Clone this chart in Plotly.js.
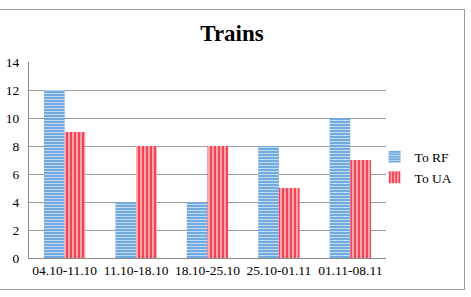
<!DOCTYPE html>
<html><head><meta charset="utf-8">
<script src="https://cdn.plot.ly/plotly-3.0.1.min.js"></script>
<style>
html,body{margin:0;padding:0;background:#fff;}
#wrap{position:relative;width:471px;height:297px;overflow:hidden;}
#chart{position:absolute;left:0;top:0;width:471px;height:297px;}
#frame{position:absolute;left:-2px;top:9px;width:465px;height:279px;border:1px solid #9a9a9a;pointer-events:none;}
</style></head>
<body><div id="wrap"><div id="chart"></div><div id="frame"></div></div>
<script>
const categories = ["04.10-11.10","11.10-18.10","18.10-25.10","25.10-01.11","01.11-08.11"];
const toRF = [12, 4, 4, 8, 10];
const toUA = [9, 8, 8, 5, 7];
const yTicks = [0,2,4,6,8,10,12,14];

const traces = [
  {type:'bar', name:'To RF', x:categories, y:toRF,
   marker:{color:'#7fb2e0', line:{width:0},
     pattern:{shape:'-', fgcolor:'#c2dcf4', bgcolor:'#72aadf', size:3, solidity:0.35}}},
  {type:'bar', name:'To UA', x:categories, y:toUA,
   marker:{color:'#ff7a80', line:{width:0},
     pattern:{shape:'|', fgcolor:'#f01a30', bgcolor:'#ffa4aa', size:4, solidity:0.35}}}
];
const layout = {
  width:471, height:297,
  margin:{l:29, r:85, t:62, b:39, autoexpand:false},
  paper_bgcolor:'#fff', plot_bgcolor:'#fff',
  font:{family:'"Liberation Serif", "Times New Roman", serif', size:13.5, color:'#000'},
  title:{text:'<b>Trains</b>', x:232/471, xref:'container', xanchor:'center', y:1-33/297, yref:'container', yanchor:'middle', font:{size:23, family:'"Liberation Serif", serif', color:'#000'}},
  barmode:'group', bargap:0.42, bargroupgap:0,
  xaxis:{showline:true, linecolor:'#888', linewidth:1, ticks:'', automargin:false, fixedrange:true},
  yaxis:{range:[0,14], tickvals:yTicks, showgrid:true, gridcolor:'#9a9a9a', gridwidth:1, automargin:false,
         showline:true, linecolor:'#888', zeroline:false, ticks:'', ticklabelstandoff:6},
  legend:{x:0.968, xanchor:'left', y:0.462, yanchor:'middle', tracegroupgap:3, itemwidth:30, bgcolor:'rgba(0,0,0,0)'},
  showlegend:true
};
Plotly.newPlot('chart', traces, layout, {staticPlot:true});
</script></body></html>
